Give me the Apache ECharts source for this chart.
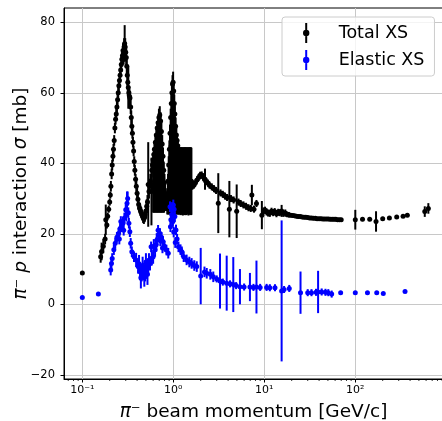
<!DOCTYPE html>
<html>
<head>
<meta charset="utf-8">
<script src="https://cdn.jsdelivr.net/npm/echarts@6/dist/echarts.min.js"></script>
<style>
  html, body { margin: 0; padding: 0; background: #fff; }
  #chart { width: 442px; height: 421px; }
</style>
</head>
<body>
<div id="chart"></div>
<script>
// pi- p total cross section: momentum [GeV/c], sigma [mb], error [mb]
// low momentum + Delta(1232) peak
const totalLowP = [
  0.1, 0.159, 0.163, 0.17, 0.178, 0.181, 0.186, 0.19, 0.195, 0.2, 0.203, 0.206, 0.21, 0.213, 0.217,
  0.22, 0.224, 0.228, 0.232, 0.236, 0.24, 0.244, 0.248, 0.252, 0.256, 0.26, 0.264, 0.268, 0.272, 0.276,
  0.28, 0.284, 0.288, 0.292, 0.296, 0.3, 0.304, 0.308, 0.312, 0.316, 0.32, 0.325, 0.33, 0.334, 0.34,
  0.345, 0.35, 0.355, 0.36, 0.366, 0.372, 0.378, 0.385, 0.392, 0.4, 0.408, 0.416, 0.425, 0.435, 0.445,
  0.455, 0.465, 0.475, 0.485
];
const totalLowXS = [
  8.9, 13.5, 15.0, 16.5, 18.5, 24.0, 22.5, 25, 27, 29, 31, 33.5, 37, 39.5, 42,
  44, 46.5, 50, 52.5, 54, 56, 58, 60, 62, 63.5, 65, 66.5, 68, 69.5, 70.5,
  72, 71, 73, 74, 73, 71.5, 70, 67.5, 65, 63, 61.5, 60, 59, 58.5, 56,
  53, 50.5, 48.5, 46, 43.5, 40.5, 38, 35.5, 33.5, 31.5, 29.8, 28.3, 27.3, 26.6, 26.0,
  25.3, 24.6, 24.3, 24.8
];
const totalLowErr = [
  0.5, 1.7, 2.5, 2.0, 1.5, 4.3, 1.0, 1.0, 1.0, 1.0, 1.0, 1.5, 1.5, 1.5, 1.5,
  1.5, 1.5, 1.5, 1.5, 1.5, 1.5, 2.0, 2.0, 2.0, 2.0, 2.0, 2.0, 2.0, 2.0, 2.0,
  2.0, 3.0, 2.5, 5.2, 2.5, 2.5, 2.5, 2.5, 3.0, 4.0, 6.0, 2.0, 2.0, 2.0, 2.0,
  2.0, 2.0, 1.5, 1.5, 1.5, 1.5, 1.5, 1.5, 1.5, 1.5, 1.5, 1.5, 1.5, 1.5, 1.5,
  1.5, 1.5, 1.5, 1.5
];

// second and third resonance peaks
const totalResP = [
  0.49, 0.5, 0.51, 0.52, 0.53, 0.54, 0.55, 0.56, 0.575, 0.58, 0.59, 0.6, 0.61, 0.62, 0.635,
  0.65, 0.665, 0.68, 0.695, 0.71, 0.725, 0.74, 0.755, 0.77, 0.785, 0.8, 0.815, 0.83, 0.845, 0.86,
  0.875, 0.89, 0.905, 0.92, 0.935, 0.95, 0.965, 0.98, 0.995, 1.01, 1.025, 1.04, 1.06, 1.08, 1.1,
  1.12
];
const totalResXS = [
  25.5, 26.5, 27.8, 29, 34, 32, 33.5, 35, 32, 38, 39.5, 41, 42.5, 44, 46,
  48, 50, 51.5, 53, 53.7, 52, 49, 45.5, 42, 38, 34.5, 31.5, 29.5, 29, 31,
  35, 39.5, 44, 48.5, 53, 57, 60, 62.5, 63, 60.5, 57, 54, 50.5, 48, 46.5,
  45
];
const totalResErr = [
  1.5, 1.5, 2, 2, 12, 2, 2, 2, 9.6, 2, 2, 2, 2, 2, 2,
  2, 2, 2, 2.5, 2.5, 2.5, 2.5, 2.5, 2.5, 2.5, 2.5, 2.5, 2, 2, 2,
  2, 2.5, 2.5, 2.5, 2.5, 2.5, 2.5, 2.5, 3, 2.5, 2.5, 2.5, 2.5, 2, 2,
  2
];

// broad-error measurements under the peaks (0.6 - 1.6 GeV/c)
const totalWideP = [
  0.6, 0.612, 0.624, 0.637, 0.65, 0.663, 0.676, 0.69, 0.703, 0.717,
  0.732, 0.746, 0.761, 0.777, 0.792, 0.808, 0.824, 0.841, 0.858, 0.875,
  0.892, 0.91, 0.928, 0.947, 0.966, 0.985, 1.005, 1.025, 1.045, 1.066,
  1.088, 1.11, 1.132, 1.143, 1.154, 1.165, 1.177, 1.189, 1.201, 1.213, 1.225, 1.237,
  1.249, 1.261, 1.274, 1.287, 1.3, 1.313, 1.326, 1.339, 1.352, 1.365, 1.379, 1.393,
  1.407, 1.421, 1.435, 1.449, 1.464, 1.478, 1.493, 1.508, 1.523, 1.538, 1.553, 1.567, 1.58
];
const totalWideXS = [
  33, 34, 34.8, 35.8, 36.5, 37.5, 38.3, 39, 39.3, 39.3,
  38, 36.8, 34.8, 33, 31, 29.8, 28.5, 28.3, 28.3, 29.8,
  32.3, 35.3, 37.8, 40.3, 42.3, 43.3, 43.3, 40.8, 39.3, 37.8,
  36.5, 35.8, 35.3, 35.1, 35, 35.1, 35.2, 35, 34.9, 35, 35.1, 35,
  35, 34.9, 34.8, 35, 35.2, 35.1, 35, 34.9, 35.1, 35, 34.9, 35,
  35, 35.1, 35.2, 35, 34.8, 34.9, 35, 35.1, 35.1, 35, 35, 34.9, 34.9
];
const totalWideErr = [
  7, 8, 8.8, 9.8, 10.5, 11.5, 12.3, 13, 13.3, 13.3,
  12, 10.8, 8.8, 7, 5, 3.3, 2, 1.8, 2.8, 4.3,
  6.8, 9.8, 12.3, 14.8, 16.8, 17.8, 17.8, 15.3, 13.8, 12.3,
  11, 10.3, 9.8, 9.6, 9.5, 9.4, 9.3, 9.5, 9.6, 9.5, 9.4, 9.5,
  9.5, 9.6, 9.6, 9.5, 9.3, 9.4, 9.5, 9.6, 9.4, 9.5, 9.6, 9.5,
  9.4, 9.4, 9.3, 9.5, 9.6, 9.6, 9.5, 9.4, 9.4, 9.5, 9.5, 9.6, 9.5
];

// 1.6 - 70 GeV/c
const totalMidP = [
  1.62, 1.68, 1.75, 1.82, 1.9, 1.97, 2.05, 2.12, 2.2, 2.23, 2.3, 2.4, 2.5, 2.65, 2.8, 2.95, 3.12,
  3.3, 3.5, 3.7, 3.9, 4.13, 4.3, 4.6, 4.97, 5.2, 5.5, 5.9, 6.3, 6.7, 7.1, 7.3, 7.7, 8.2,
  9.4, 9.8, 10.2, 10.6, 11.0, 11.5, 12.0, 12.5, 13.0, 13.6, 14.2, 14.8, 15.5, 16.2, 17.0,
  17.8, 18.6, 19.5, 20.5, 21.5, 22.5, 23.6, 24.8, 26, 27.3, 28.6, 30, 31.5, 33, 34.6,
  36.3, 38, 40, 42, 44, 46, 48.3, 50.6, 53, 55.6, 58.3, 61, 64, 67, 70
];
const totalMidXS = [
  33.5, 33.8, 34.5, 35.3, 36, 36.6, 36.7, 36.2, 35.5, 35.5, 34.8, 34.4, 33.8, 33.3, 32.8, 32.3, 28.7,
  31.6, 31.2, 30.7, 30.3, 27, 30, 29.6, 26.4, 29, 28.6, 28.2, 27.8, 27.4, 27.2, 31, 27, 28.6,
  25.3, 26.5, 26.7, 26.2, 25.9, 25.8, 26.4, 26.0, 26.3, 25.7, 26.1, 26.0, 26.5, 25.8, 25.9,
  25.5, 25.4, 25.3, 25.2, 25.1, 25.0, 24.9, 24.9, 24.8, 24.7, 24.7, 24.6, 24.5, 24.5, 24.4,
  24.4, 24.3, 24.3, 24.3, 24.2, 24.2, 24.2, 24.2, 24.1, 24.1, 24.1, 24.1, 24.0, 24.0, 24.0
];
const totalMidErr = [
  1, 1, 1, 1, 1, 1, 1, 1, 1, 3, 1, 1, 1, 1, 1, 1, 8.5,
  1, 1, 1, 1, 8, 1, 1, 7.6, 1, 1, 1, 1, 1, 1, 2.9, 1, 1,
  4, 1, 1, 1, 1, 1, 1, 1, 1, 1, 1, 1, 1.7, 1, 1,
  0.8, 0.8, 0.6, 0.5, 0.5, 0.5, 0.5, 0.5, 0.5, 0.5, 0.5, 0.5, 0.5, 0.5, 0.5,
  0.5, 0.5, 0.5, 0.5, 0.5, 0.5, 0.5, 0.5, 0.5, 0.5, 0.5, 0.5, 0.5, 0.5, 0.5
];

// high momentum
const totalHighP = [100, 120, 144, 169, 200, 237, 285, 335, 373, 580, 635];
const totalHighXS = [24.0, 24.1, 24.1, 23.5, 24.3, 24.5, 24.8, 25.0, 25.3, 26.3, 27.2];
const totalHighErr = [2.8, 0.5, 0.5, 2.9, 0.5, 0.5, 0.5, 0.5, 0.5, 1.5, 1.5];

// pi- p elastic cross section
const elasticP = [
  0.1, 0.15, 0.205, 0.209, 0.213, 0.222, 0.23, 0.24, 0.25, 0.26, 0.27, 0.28, 0.29, 0.3, 0.31,
  0.32, 0.325, 0.333, 0.34, 0.35, 0.37, 0.39, 0.41, 0.43, 0.45, 0.468, 0.49, 0.51, 0.53, 0.554,
  0.57, 0.6, 0.63, 0.657, 0.69, 0.714, 0.74, 0.77, 0.8, 0.84, 0.88, 0.92, 0.94, 0.96, 1.0,
  1.02, 1.04, 1.07, 1.1, 1.14, 1.2, 1.24, 1.3, 1.4, 1.5, 1.59, 1.7, 1.81, 2.0, 2.2, 2.33,
  2.55, 2.75, 3.0, 3.26, 3.5, 3.86, 4.2, 4.56, 4.9, 5.4, 6.0, 6.95, 7.6, 8.2, 9.0, 10.6, 11.5,
  13.1, 15.5, 16.5, 18.8, 25, 30, 33, 37, 39, 42.7, 47, 50.5, 55, 69, 100, 136, 172, 203, 352
];
const elasticXS = [
  1.9, 2.9, 9.7, 11.6, 13.0, 15.5, 17.3, 19.0, 20.1, 21.5, 22.0, 23.0, 24.5, 26.8, 28.7,
  26.0, 23.0, 20.6, 17.3, 14.9, 13.5, 12.6, 10.7, 9.3, 9.0, 9.3, 9.0, 9.7, 10.5, 11.6,
  16.3, 13.5, 15.5, 18.2, 19.5, 20.1, 19.0, 17.8, 16.5, 15.4, 14.5, 27.7, 24.0, 25.5, 28.2,
  27.0, 24.9, 21.1, 18.5, 16.3, 15.5, 14.9, 13.5, 12.6, 12.0, 11.6, 11.0, 10.7, 8.0, 9.2, 8.8,
  8.5, 7.8, 7.2, 6.6, 6.3, 6.0, 5.8, 5.6, 5.3, 5.0, 4.9, 4.9, 4.8, 4.9, 4.8, 4.8, 4.7,
  4.7, 3.8, 4.2, 4.5, 3.3, 3.3, 3.3, 3.4, 3.5, 3.5, 3.4, 3.3, 2.9, 3.3, 3.3, 3.3, 3.3, 3.1, 3.6
];
const elasticErr = [
  0.2, 0.2, 1.5, 1.5, 1.5, 1.5, 1.5, 1.5, 1.5, 1.5, 1.5, 1.5, 1.5, 1.5, 3.3,
  1.5, 1.5, 1.5, 1.5, 1.5, 1.5, 2.0, 2.0, 2.5, 2.5, 2.5, 2.5, 2.5, 2.5, 2.0,
  1.5, 2.0, 2.0, 2.0, 1.5, 1.5, 1.5, 1.5, 1.5, 1.5, 1.5, 1.5, 1.5, 1.5, 1.5,
  1.5, 1.5, 1.5, 1.5, 1.5, 1.5, 1.5, 1.5, 1.5, 1.5, 1.5, 1.5, 1.5, 8.0, 1.5, 1.5,
  1.5, 1.5, 1.0, 7.8, 1.0, 7.8, 1.0, 7.8, 1.0, 5.0, 1.0, 4.0, 1.0, 7.5, 1.0, 1.0, 1.0,
  1.0, 20.0, 1.0, 1.0, 6.0, 1.0, 1.0, 1.0, 6.0, 1.0, 1.0, 1.0, 1.0, 0.3, 0.3, 0.3, 0.3, 0.3, 0.3
];
// second elastic data set in the resonance region
const elasticResP = [
  0.255, 0.265, 0.285, 0.305, 0.315, 0.42, 0.44, 0.46, 0.48, 0.5, 0.52, 0.54, 0.58,
  0.61, 0.65, 0.68, 0.72, 0.76, 0.93, 0.97, 0.99, 1.01, 1.05
];
const elasticResXS = [
  18.5, 23.5, 21.0, 25.5, 30.0, 11.5, 7.5, 11.0, 8.0, 12.0, 8.5, 12.5, 13.0,
  16.5, 17.0, 21.0, 18.0, 16.0, 22.0, 27.5, 23.5, 20.5, 17.5
];
const elasticResErr = [
  1.5, 1.5, 1.5, 2.0, 2.0, 2.5, 3.0, 2.5, 3.0, 2.5, 3.0, 2.0, 2.0,
  2.0, 2.0, 1.5, 1.5, 1.5, 1.5, 1.5, 1.5, 1.5, 1.5
];

const yTicks = [-20, 0, 20, 40, 60, 80];
const xTicks = [0.1, 1, 10, 100];

const X_MIN = 0.0629, X_MAX = 920;
const Y_MIN = -21.19, Y_MAX = 84.06;

const totalP = [].concat(totalLowP, totalResP, totalWideP, totalMidP, totalHighP);
const totalXS = [].concat(totalLowXS, totalResXS, totalWideXS, totalMidXS, totalHighXS);
const totalErr = [].concat(totalLowErr, totalResErr, totalWideErr, totalMidErr, totalHighErr);
const elP = elasticP.concat(elasticResP);
const elXS = elasticXS.concat(elasticResXS);
const elErr = elasticErr.concat(elasticResErr);

// log minor tick positions (2..9 x 10^k) inside the axis range
const minorTicks = [];
for (let k = -2; k <= 2; k++) {
  for (let m = 2; m <= 9; m++) {
    const v = m * Math.pow(10, k);
    if (v > X_MIN && v < X_MAX) minorTicks.push([v]);
  }
}

const SUP = { '-': '\u207b', '0': '\u2070', '1': '\u00b9', '2': '\u00b2', '3': '\u00b3' };
const powLabel = v => '10' + String(Math.round(Math.log10(v))).split('').map(c => SUP[c]).join('');

const FONT = 'DejaVu Sans';

const errorBars = (p, xs, err) => p.map((v, i) => [v, xs[i] - err[i], xs[i] + err[i]]);

const barRenderer = color => (params, api) => {
  const lo = api.coord([api.value(0), api.value(1)]);
  const hi = api.coord([api.value(0), api.value(2)]);
  return {
    type: 'line',
    shape: { x1: lo[0], y1: lo[1], x2: hi[0], y2: hi[1] },
    style: { stroke: color, lineWidth: 2 }
  };
};

const legendIcon = 'path://M-1,-10 L1,-10 L1,10 L-1,10 Z M0,-3.2 A3.2,3.2 0 1 1 0,3.2 A3.2,3.2 0 1 1 0,-3.2 Z';

const chart = echarts.init(document.getElementById('chart'), null, { renderer: 'canvas' });

chart.setOption({
  animation: false,
  textStyle: { fontFamily: FONT },
  grid: {
    left: 64, right: -1, top: 8, bottom: 42,
    containLabel: false,
    outerBoundsMode: 'none',
    show: true, borderColor: '#000', borderWidth: 1
  },
  legend: {
    data: ['Total XS', 'Elastic XS'],
    orient: 'vertical',
    left: 282, top: 17,
    padding: [6, 10, 6, 21],
    itemGap: 7,
    itemWidth: 7, itemHeight: 20,
    icon: legendIcon,
    selectedMode: false,
    backgroundColor: 'rgba(255,255,255,0.8)',
    borderColor: '#cccccc', borderWidth: 1, borderRadius: 3,
    textStyle: { fontFamily: FONT, fontSize: 17.5, color: '#000', lineHeight: 20, padding: [0, 0, 0, 24] }
  },
  xAxis: {
    type: 'log',
    logBase: 10,
    min: X_MIN, max: X_MAX,
    name: '{i|π}⁻ beam momentum [GeV/c]',
    nameLocation: 'middle',
    nameGap: 24,
    nameMoveOverlap: false,
    nameTextStyle: {
      fontFamily: FONT, fontSize: 18.5, color: '#000',
      rich: { i: { fontFamily: FONT, fontSize: 18.5, fontStyle: 'italic', color: '#000' } }
    },
    axisLine: { show: true, onZero: false, lineStyle: { color: '#000', width: 1 } },
    axisTick: { show: true, inside: false, length: 3.5, lineStyle: { color: '#000' }, customValues: xTicks },
    axisLabel: {
      customValues: xTicks,
      margin: 6, fontSize: 11, color: '#000', fontFamily: FONT,
      formatter: v => powLabel(v)
    },
    splitLine: { show: true, lineStyle: { color: '#c8c8c8', width: 1 } },
    minorTick: { show: false }
  },
  yAxis: {
    type: 'value',
    min: Y_MIN, max: Y_MAX,
    splitNumber: 5,
    name: '{i|π}⁻ {i|p} interaction {i|σ} [mb]',
    nameLocation: 'middle',
    nameRotate: 90,
    nameGap: 33,
    nameMoveOverlap: false,
    nameTextStyle: {
      fontFamily: FONT, fontSize: 18.5, color: '#000',
      rich: { i: { fontFamily: FONT, fontSize: 18.5, fontStyle: 'italic', color: '#000' } }
    },
    axisLine: { show: true, onZero: false, lineStyle: { color: '#000', width: 1 } },
    axisTick: { show: true, inside: false, length: 3.5, lineStyle: { color: '#000' }, customValues: yTicks },
    axisLabel: {
      customValues: yTicks,
      margin: 9, fontSize: 11.5, color: '#000', fontFamily: FONT,
      formatter: v => (v < 0 ? '\u2212' + Math.abs(v) : String(v))
    },
    splitLine: { show: true, lineStyle: { color: '#c8c8c8', width: 1 } }
  },
  series: [
    {
      name: 'minor ticks',
      type: 'custom',
      silent: true,
      clip: false,
      z: 1,
      data: minorTicks,
      encode: { x: 0 },
      renderItem: (params, api) => {
        const pt = api.coord([api.value(0), Y_MIN]);
        return {
          type: 'line',
          shape: { x1: pt[0], y1: pt[1], x2: pt[0], y2: pt[1] + 2 },
          style: { stroke: '#000', lineWidth: 0.8 }
        };
      }
    },
    {
      name: 'Total XS bars',
      type: 'custom',
      z: 2,
      data: errorBars(totalP, totalXS, totalErr),
      encode: { x: 0, y: [1, 2] },
      renderItem: barRenderer('#000')
    },
    {
      name: 'Total XS',
      type: 'scatter',
      z: 3,
      symbolSize: 5,
      itemStyle: { color: '#000', opacity: 1 },
      data: totalP.map((p, i) => [p, totalXS[i]])
    },
    {
      name: 'Elastic XS bars',
      type: 'custom',
      z: 4,
      data: errorBars(elP, elXS, elErr),
      encode: { x: 0, y: [1, 2] },
      renderItem: barRenderer('#0000ff')
    },
    {
      name: 'Elastic XS',
      type: 'scatter',
      z: 5,
      symbolSize: 5,
      itemStyle: { color: '#0000ff', opacity: 1 },
      data: elP.map((p, i) => [p, elXS[i]])
    }
  ]
});
</script>
</body>
</html>
